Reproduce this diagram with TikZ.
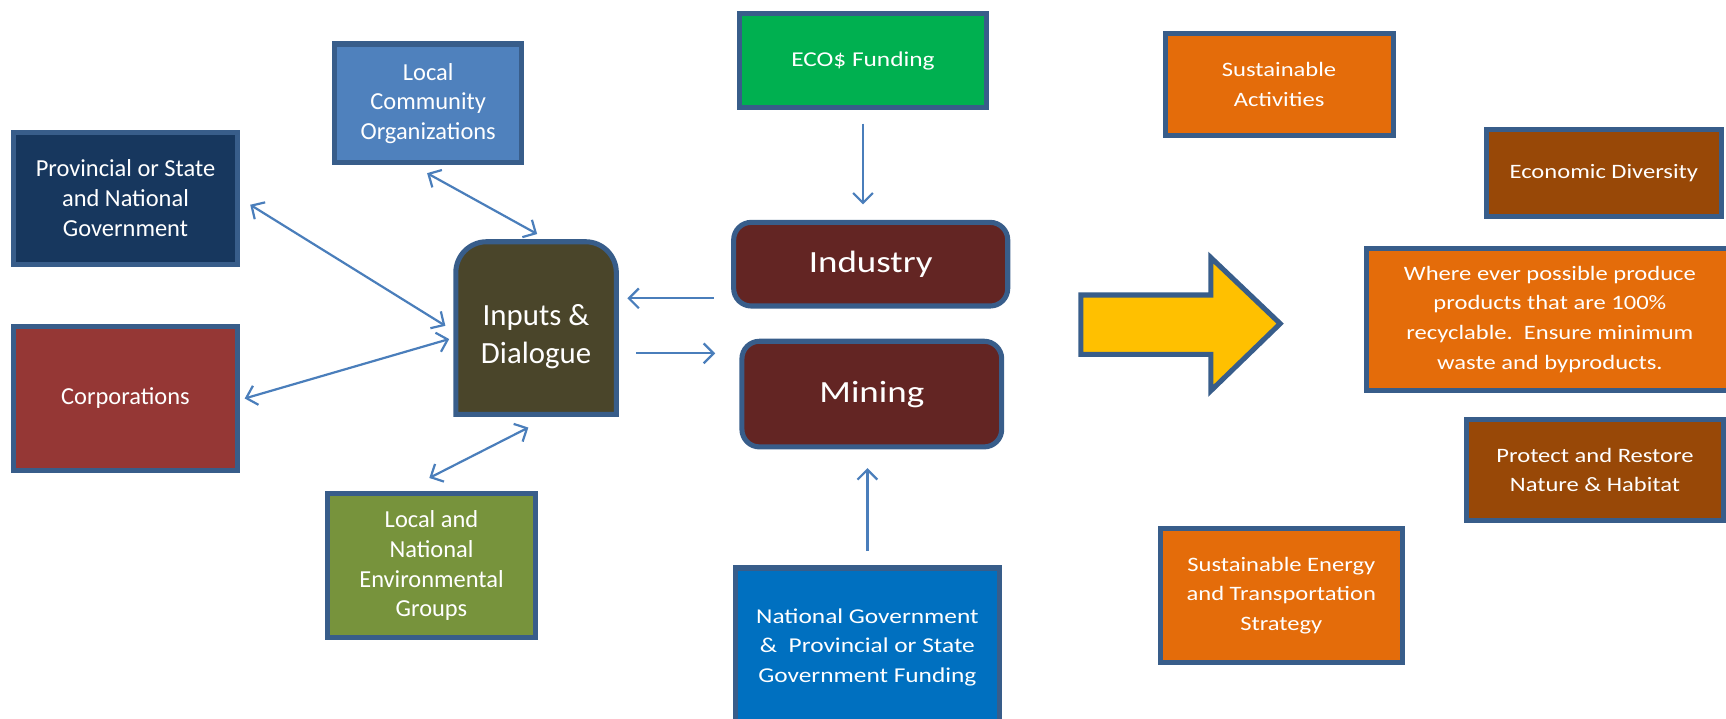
\documentclass[tikz,border=0pt]{standalone}
\usepackage{fontspec}
\setmainfont{Carlito}
\newfontfamily\widefont[FakeStretch=1.2]{Carlito}
\usetikzlibrary{arrows.meta}
\definecolor{bord}{HTML}{385D8A}
\definecolor{arr}{HTML}{4A7EBB}
\definecolor{navy}{HTML}{17375E}
\definecolor{corpred}{HTML}{953735}
\definecolor{lblue}{HTML}{4F81BD}
\definecolor{olive}{HTML}{77933C}
\definecolor{dolive}{HTML}{4A452A}
\definecolor{ecogreen}{HTML}{00B050}
\definecolor{maroon}{HTML}{632523}
\definecolor{natblue}{HTML}{0070C0}
\definecolor{orng}{HTML}{E46C0A}
\definecolor{brwn}{HTML}{984807}
\definecolor{yel}{HTML}{FFC000}
\begin{document}
\begin{tikzpicture}[x=0.5pt,y=-0.5pt,
  box/.style={draw=bord, line width=2.3pt, text=white, align=center, inner sep=0pt,
    font=\fontsize{11.1}{13.5}\selectfont},
  wbox/.style={box, font=\widefont\fontsize{9.6}{13.5}\selectfont},
  rwbox/.style={box, font=\widefont\fontsize{9.3}{13.5}\selectfont},
  rbox/.style={box, rounded corners=8pt, font=\widefont\fontsize{14}{17}\selectfont},
  conn/.style={draw=arr, line width=1pt},
  tip/.style={-{Straight Barb[length=4.5pt,width=9pt]}},
  both/.style={{Straight Barb[length=4.5pt,width=9pt]}-{Straight Barb[length=4.5pt,width=9pt]}}
]
\useasboundingbox (0,0) rectangle (1568,653);
\clip (0,0) rectangle (1568,653);

% left column
\node[box, fill=navy, minimum width=102pt, minimum height=60pt] (prov) at (114,180)
  {Provincial or State\\and National\\Government};
\node[box, fill=corpred, minimum width=102pt, minimum height=65.5pt] (corp) at (114,362)
  {Corporations};
\node[box, fill=lblue, minimum width=85pt, minimum height=54pt] (lco) at (389,94)
  {Local\\Community\\Organizations};
\node[box, fill=olive, minimum width=94.5pt, minimum height=65.5pt] (env) at (392,514)
  {Local and\\National\\Environmental\\Groups};

% inputs & dialogue
\node[minimum width=72.5pt, minimum height=78pt, inner sep=0pt] (inp) at (487,298) {};
\draw[draw=bord, fill=dolive, line width=2.3pt]
  (inp.south west) -- ([yshift=-14pt]inp.north west)
  arc[start angle=180, end angle=90, radius=14pt]
  -- ([xshift=-14pt]inp.north east)
  arc[start angle=90, end angle=0, radius=14pt]
  -- (inp.south east) -- cycle;
\node[text=white, align=center, font=\fontsize{14}{17.5}\selectfont] (inptxt) at (487,306)
  {Inputs \&\\Dialogue};

% middle column
\node[wbox, fill=ecogreen, minimum width=112pt, minimum height=43pt] (eco) at (784,55)
  {ECO\$ Funding};
\node[rbox, fill=maroon, minimum width=124.5pt, minimum height=38pt] (ind) at (791,240)
  {Industry};
\node[rbox, fill=maroon, minimum width=118pt, minimum height=48pt] (min) at (792,358)
  {Mining};
\node[wbox, fill=natblue, minimum width=120pt, minimum height=72pt] (nat) at (788,588)
  {National Government\\\&\ \ Provincial or State\\Government Funding};

% right side
\node[rwbox, fill=orng, minimum width=103.5pt, minimum height=46.5pt] (sa) at (1162,77)
  {Sustainable\\Activities};
\node[rwbox, fill=brwn, minimum width=107pt, minimum height=39.5pt] (ed) at (1457,157)
  {Economic Diversity};
\node[rwbox, fill=orng, minimum width=166.5pt, minimum height=64.5pt] (we) at (1408,290)
  {Where ever possible produce\\products that are 100\%\\recyclable.\ \ Ensure minimum\\waste and byproducts.};
\node[rwbox, fill=brwn, minimum width=117pt, minimum height=46pt] (pr) at (1449,427)
  {Protect and Restore\\Nature \& Habitat};
\node[rwbox, fill=orng, minimum width=110pt, minimum height=61pt] (se) at (1164,541)
  {Sustainable Energy\\and Transportation\\Strategy};

% big arrow
\draw[draw=bord, fill=yel, line width=2.3pt]
  (982,268) -- (1100,268) -- (1100,234) -- (1163,294) -- (1100,355) -- (1100,322) -- (982,322) -- cycle;

% connectors
\draw[conn, both] ([shift={(9,6)}]prov.east) -- ([shift={(-9.5,-2)}]inp.west);
\draw[conn, both] ([shift={(4,0)}]corp.east) -- ([shift={(-6,10)}]inp.west);
\draw[conn, both] ([shift={(-1,7)}]lco.south) -- ([shift={(1,-7)}]inp.north);
\draw[conn, both] ([shift={(-2,-12)}]env.north) -- ([shift={(-7,12)}]inp.south);
\draw[conn, tip] ([shift={(-16,31)}]ind.west) -- ([shift={(10,-27)}]inp.east);
\draw[conn, tip] ([shift={(18,23)}]inp.east) -- ([shift={(-22,-37)}]min.west);
\draw[conn, tip] ([shift={(0,12)}]eco.south) -- ([shift={(-7,-14)}]ind.north);
\draw[conn, tip] ([shift={(0,-13)}]nat.north) -- ([shift={(-4,17)}]min.south);
\end{tikzpicture}
\end{document}
